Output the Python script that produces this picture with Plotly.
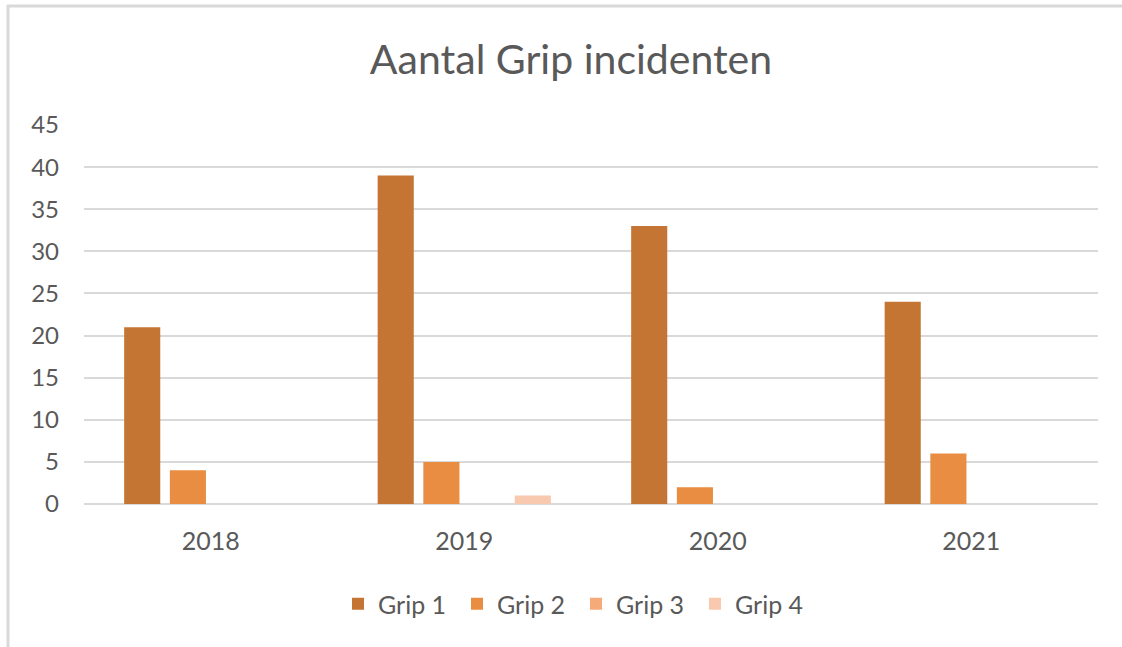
import plotly.graph_objects as go

years = ["2018", "2019", "2020", "2021"]
series_names = ["Grip 1", "Grip 2", "Grip 3", "Grip 4"]
grip1 = [21, 39, 33, 24]
grip2 = [4, 5, 2, 6]
grip3 = [0, 0, 0, 0]
grip4 = [0, 1, 0, 0]
colors = ["#C47534", "#E88D42", "#F6AA7A", "#F8C8AF"]

fig = go.Figure()
for name, vals, col in zip(series_names, [grip1, grip2, grip3, grip4], colors):
    fig.add_trace(go.Bar(name=name, x=years, y=vals, marker=dict(color=col, line=dict(width=0))))

W, H = 1122, 647
L, R, T, B = 84, 24, 125, 143
pw, ph = W - L - R, H - T - B

def px_x(x):
    return (x - L) / pw

def px_y(y):
    return (H - B - y) / ph

font_fam = "Lato, 'Open Sans', sans-serif"
fig.update_layout(
    width=W, height=H,
    margin=dict(l=L, r=R, t=T, b=B),
    paper_bgcolor="white", plot_bgcolor="white",
    barmode="group", bargap=0.279, bargroupgap=0.21,
    title=dict(text="Aantal Grip incidenten", x=571 / W, xanchor="center",
               y=1 - 60 / H, yanchor="middle", xref="container", yref="container",
               font=dict(family=font_fam, size=41, color="#595959")),
    font=dict(family=font_fam, size=25, color="#595959"),
    legend=dict(orientation="h", x=px_x(576), xanchor="center", y=px_y(604), yanchor="middle",
                font=dict(size=25, color="#595959"), entrywidth=74, entrywidthmode="pixels",
                traceorder="normal"),
    showlegend=True,
    xaxis=dict(showgrid=False, showline=False, ticks="", ticklabelstandoff=20,
               tickfont=dict(size=25, color="#595959")),
    yaxis=dict(range=[0, 45], dtick=5, showgrid=True, gridcolor="#D9D9D9", gridwidth=2,
               zeroline=True, zerolinecolor="#D9D9D9", zerolinewidth=2,
               showline=False, ticks="", ticklabelstandoff=24,
               tickfont=dict(size=24, color="#595959")),
    shapes=[
        dict(type="line", xref="paper", yref="paper", x0=px_x(7), x1=px_x(1122), y0=px_y(6), y1=px_y(6),
             line=dict(color="#D9D9D9", width=3), layer="above"),
        dict(type="line", xref="paper", yref="paper", x0=px_x(8), x1=px_x(8), y0=px_y(5), y1=px_y(647),
             line=dict(color="#D9D9D9", width=3), layer="above"),
    ],
)

fig.write_html("out.html", config={"displayModeBar": False},
               post_script="document.body.style.margin='0';document.body.style.padding='0';")
